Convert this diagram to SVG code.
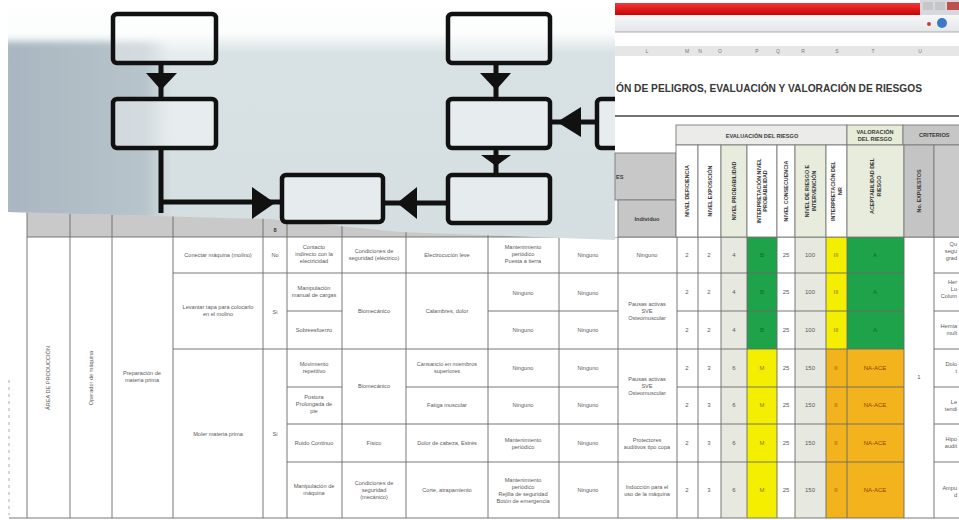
<svg xmlns="http://www.w3.org/2000/svg" width="959" height="520" viewBox="0 0 959 520">
<defs>
<linearGradient id="ov" x1="0" y1="0" x2="0" y2="240" gradientUnits="userSpaceOnUse">
<stop offset="0" stop-color="#ffffff"/>
<stop offset="0.14" stop-color="#fbfcfc"/>
<stop offset="0.22" stop-color="#d8e2e4"/>
<stop offset="1" stop-color="#d5dfe1"/>
</linearGradient>
<linearGradient id="dk" x1="0" y1="0" x2="1" y2="0">
<stop offset="0" stop-color="#a8b6bf"/>
<stop offset="0.85" stop-color="#b7c4cb"/>
<stop offset="1" stop-color="#b7c4cb" stop-opacity="0"/>
</linearGradient>
<linearGradient id="red" x1="0" y1="0" x2="0" y2="1">
<stop offset="0" stop-color="#f23a3a"/>
<stop offset="1" stop-color="#cc0000"/>
</linearGradient>
<linearGradient id="tb" x1="0" y1="0" x2="0" y2="1">
<stop offset="0" stop-color="#f6f7f8"/>
<stop offset="1" stop-color="#e4e6e9"/>
</linearGradient>
<filter id="bl" x="-20%" y="-20%" width="140%" height="140%"><feGaussianBlur stdDeviation="3"/></filter>
<clipPath id="ovc"><path d="M8,0 H615 V240 L400,232 L270,219 L8,212 Z"/></clipPath>
</defs>
<style>
.t{font-family:"Liberation Sans",Arial,sans-serif;font-size:5.6px;fill:#5a5a5a;text-anchor:middle}
.h{font-family:"Liberation Sans",Arial,sans-serif;font-size:5.6px;font-weight:bold;fill:#3a3a3a;text-anchor:middle}
.n{font-family:"Liberation Sans",Arial,sans-serif;font-size:6px;fill:#5a5a5a;text-anchor:middle}
.ln{stroke:#6a6a6a;stroke-width:0.9;fill:none}
.hd{stroke:#7a7a7a;stroke-width:0.9}
.box{fill:#ffffff;fill-opacity:0.4;stroke:#111;stroke-width:4.5}
.cn{stroke:#111;stroke-width:5;fill:none}
.ah{fill:#111}
</style>
<rect width="959" height="520" fill="#ffffff"/>

<g id="table">
<rect x="27" y="203" width="590" height="34" fill="#c9c9c9"/>
<text class="h" x="275" y="232" fill="#555">8</text>
<rect x="721" y="237" width="26" height="281" fill="#e7e9e0"/>
<rect x="795" y="237" width="31" height="281" fill="#e7e9e0"/>
<rect x="747" y="237" width="30" height="112" fill="#1ea34a"/>
<rect x="747" y="349" width="30" height="169" fill="#f4ee00"/>
<rect x="826" y="237" width="21" height="112" fill="#f4ee00"/>
<rect x="826" y="349" width="21" height="169" fill="#f2b31c"/>
<rect x="847" y="237" width="57" height="112" fill="#1ea34a"/>
<rect x="847" y="349" width="57" height="169" fill="#f2b31c"/>
<path class="ln" d="M27,203V518 M70,203V518 M112,203V518 M173,203V518 M263,203V518 M287,203V518 M342,203V518 M406,203V518 M488,203V518 M559,203V518 M618,237V518 M677,237V518 M698,237V518 M721,237V518 M747,237V518 M777,237V518 M795,237V518 M826,237V518 M847,237V518 M904,237V518 M934,237V518"/>
<path class="ln" d="M27,237H959 M9,518H959 M173,273H904 M934,273H959 M287,311H342 M488,311H618 M677,311H904 M934,311H959 M173,349H904 M934,349H959 M287,387H342 M406,387H618 M677,387H904 M934,387H959 M287,424H904 M934,424H959 M287,462H904 M934,462H959"/>
<path d="M9,380V515" stroke="#999" stroke-width="0.8" stroke-dasharray="3,4"/>
<text class="t" transform="translate(50,378) rotate(-90)">ÁREA DE PRODUCCIÓN</text>
<text class="t" transform="translate(93,378) rotate(-90)">Operador de máquina</text>
<text class="t" x="142" y="375"><tspan x="142">Preparación de</tspan><tspan x="142" dy="7">materia prima</tspan></text>
<text class="t" x="218" y="257">Conectar máquina (molino)</text>
<text class="t" x="218" y="309"><tspan x="218">Levantar tapa para colocarlo</tspan><tspan x="218" dy="7">en el molino</tspan></text>
<text class="t" x="218" y="436">Moler materia prima</text>
<text class="t" x="275" y="257">No</text>
<text class="t" x="275" y="314">Si</text>
<text class="t" x="275" y="436">Si</text>
<text class="t" y="249"><tspan x="314">Contacto</tspan><tspan x="314" dy="7">indirecto con la</tspan><tspan x="314" dy="7">electricidad</tspan></text>
<text class="t" y="290"><tspan x="314">Manipulación</tspan><tspan x="314" dy="7">manual de cargas</tspan></text>
<text class="t" x="314" y="332">Sobreesfuerzo</text>
<text class="t" y="366"><tspan x="314">Movimiento</tspan><tspan x="314" dy="7">repetitivo</tspan></text>
<text class="t" y="399"><tspan x="314">Postura</tspan><tspan x="314" dy="7">Prolongada de</tspan><tspan x="314" dy="7">pie</tspan></text>
<text class="t" x="314" y="445">Ruido Continuo</text>
<text class="t" y="488"><tspan x="314">Manipulación de</tspan><tspan x="314" dy="7">máquina</tspan></text>
<text class="t" y="253"><tspan x="374">Condiciones de</tspan><tspan x="374" dy="7">seguridad (eléctrico)</tspan></text>
<text class="t" x="374" y="313">Biomecánico</text>
<text class="t" x="374" y="388">Biomecánico</text>
<text class="t" x="374" y="445">Físico</text>
<text class="t" y="485"><tspan x="374">Condiciones de</tspan><tspan x="374" dy="7">seguridad</tspan><tspan x="374" dy="7">(mecánico)</tspan></text>
<text class="t" x="447" y="257">Electrocución leve</text>
<text class="t" x="447" y="313">Calambres, dolor</text>
<text class="t" y="366"><tspan x="447">Cansancio en miembros</tspan><tspan x="447" dy="7">superiores</tspan></text>
<text class="t" x="447" y="407">Fatiga muscular</text>
<text class="t" x="447" y="445">Dolor de cabeza, Estrés</text>
<text class="t" x="447" y="492">Corte, atrapamiento</text>
<text class="t" y="249"><tspan x="523">Mantenimiento</tspan><tspan x="523" dy="7">periódico</tspan><tspan x="523" dy="7">Puesta a tierra</tspan></text>
<text class="t" x="523" y="295">Ninguno</text>
<text class="t" x="523" y="332">Ninguno</text>
<text class="t" x="523" y="370">Ninguno</text>
<text class="t" x="523" y="407">Ninguno</text>
<text class="t" y="442"><tspan x="523">Mantenimiento</tspan><tspan x="523" dy="7">periódico</tspan></text>
<text class="t" y="482"><tspan x="523">Mantenimiento</tspan><tspan x="523" dy="7">periódico</tspan><tspan x="523" dy="7">Rejilla de seguridad</tspan><tspan x="523" dy="7">Botón de emergencia</tspan></text>
<text class="t" x="588" y="257">Ninguno</text>
<text class="t" x="588" y="295">Ninguno</text>
<text class="t" x="588" y="332">Ninguno</text>
<text class="t" x="588" y="370">Ninguno</text>
<text class="t" x="588" y="407">Ninguno</text>
<text class="t" x="588" y="445">Ninguno</text>
<text class="t" x="588" y="492">Ninguno</text>
<text class="t" x="647" y="257">Ninguno</text>
<text class="t" y="306"><tspan x="647">Pausas activas</tspan><tspan x="647" dy="7">SVE</tspan><tspan x="647" dy="7">Osteomuscular</tspan></text>
<text class="t" y="381"><tspan x="647">Pausas activas</tspan><tspan x="647" dy="7">SVE</tspan><tspan x="647" dy="7">Osteomuscular</tspan></text>
<text class="t" y="442"><tspan x="647">Protectores</tspan><tspan x="647" dy="7">auditivos tipo copa</tspan></text>
<text class="t" y="489"><tspan x="647">Inducción para el</tspan><tspan x="647" dy="7">uso de la máquina</tspan></text>
<g class="n">
<text x="687" y="257">2</text><text x="687" y="294">2</text><text x="687" y="332">2</text><text x="687" y="370">2</text><text x="687" y="407">2</text><text x="687" y="445">2</text><text x="687" y="492">2</text>
<text x="709" y="257">2</text><text x="709" y="294">2</text><text x="709" y="332">2</text><text x="709" y="370">3</text><text x="709" y="407">3</text><text x="709" y="445">3</text><text x="709" y="492">3</text>
<text x="734" y="257">4</text><text x="734" y="294">4</text><text x="734" y="332">4</text><text x="734" y="370">6</text><text x="734" y="407">6</text><text x="734" y="445">6</text><text x="734" y="492">6</text>
<text x="786" y="257">25</text><text x="786" y="294">25</text><text x="786" y="332">25</text><text x="786" y="370">25</text><text x="786" y="407">25</text><text x="786" y="445">25</text><text x="786" y="492">25</text>
<text x="810" y="257">100</text><text x="810" y="294">100</text><text x="810" y="332">100</text><text x="810" y="370">150</text><text x="810" y="407">150</text><text x="810" y="445">150</text><text x="810" y="492">150</text>
</g>
<g class="n">
<text x="762" y="257" style="fill:#0e6a2e">B</text><text x="762" y="294" style="fill:#0e6a2e">B</text><text x="762" y="332" style="fill:#0e6a2e">B</text>
<text x="875" y="257" style="fill:#0e6a2e">A</text><text x="875" y="294" style="fill:#0e6a2e">A</text><text x="875" y="332" style="fill:#0e6a2e">A</text>
<text x="762" y="370" style="fill:#8a7a00">M</text><text x="762" y="407" style="fill:#8a7a00">M</text><text x="762" y="445" style="fill:#8a7a00">M</text><text x="762" y="492" style="fill:#8a7a00">M</text>
<text x="836" y="257" style="fill:#8a7a00">III</text><text x="836" y="294" style="fill:#8a7a00">III</text><text x="836" y="332" style="fill:#8a7a00">III</text>
<text x="836" y="370" style="fill:#9a5a00">II</text><text x="836" y="407" style="fill:#9a5a00">II</text><text x="836" y="445" style="fill:#9a5a00">II</text><text x="836" y="492" style="fill:#9a5a00">II</text>
<text x="875" y="370" style="fill:#8a4a00">NA-ACE</text><text x="875" y="407" style="fill:#8a4a00">NA-ACE</text><text x="875" y="445" style="fill:#8a4a00">NA-ACE</text><text x="875" y="492" style="fill:#8a4a00">NA-ACE</text>
<text x="919" y="379">1</text>
</g>
<g class="t" style="text-anchor:end">
<text y="246"><tspan x="957">Qu</tspan><tspan x="957" dy="7">segu</tspan><tspan x="957" dy="7">grad</tspan></text>
<text y="284"><tspan x="957">Her</tspan><tspan x="957" dy="7">Lu</tspan><tspan x="957" dy="7">Colum</tspan></text>
<text y="328"><tspan x="957">Hernia</tspan><tspan x="957" dy="7">mult</tspan></text>
<text y="366"><tspan x="957">Dolo</tspan><tspan x="957" dy="7">t</tspan></text>
<text y="404"><tspan x="957">Le</tspan><tspan x="957" dy="7">tendi</tspan></text>
<text y="441"><tspan x="957">Hipo</tspan><tspan x="957" dy="7">audit</tspan></text>
<text y="490"><tspan x="957">Ampu</tspan><tspan x="957" dy="7">d</tspan></text>
</g>
</g>

<g id="backdrop">
<path d="M8,0 H615 V240 L400,232 L270,219 L8,212 Z" fill="url(#ov)"/>
<g clip-path="url(#ovc)">
<rect x="4" y="42" width="166" height="178" fill="url(#dk)" filter="url(#bl)"/>
</g>
</g>

<g id="connectors">
<path class="cn" d="M161,63V99"/>
<polygon class="ah" points="146,73 177,73 161,90"/>
<path class="cn" d="M161,148V213 M161,202H282"/>
<polygon class="ah" points="252,187 252,219 275,203"/>
<path class="cn" d="M496,63V99"/>
<polygon class="ah" points="480,73 511,73 496,90"/>
<path class="cn" d="M496,148V175"/>
<polygon class="ah" points="481,155 511,155 496,166"/>
<path class="cn" d="M448,203H383"/>
<polygon class="ah" points="417,187 417,219 397,203"/>
<path class="cn" d="M597,122H550"/>
<polygon class="ah" points="581,107 581,137 557,122"/>
</g>

<g id="node-a"><rect class="box" x="113" y="14" width="103" height="49" rx="4"/></g>
<g id="node-b"><rect class="box" x="113" y="99" width="103" height="49" rx="4"/></g>
<g id="node-c"><rect class="box" x="282" y="175" width="101" height="47" rx="4"/></g>
<g id="node-d"><rect class="box" x="448" y="14" width="102" height="49" rx="4"/></g>
<g id="node-e"><rect class="box" x="448" y="99" width="102" height="49" rx="4"/></g>
<g id="node-f"><rect class="box" x="448" y="175" width="102" height="48" rx="4"/></g>
<g id="node-g"><rect class="box" x="597" y="99" width="40" height="49" rx="4"/></g>

<g id="sheet-header">
<rect x="615" y="0" width="344" height="237" fill="#ffffff"/>
<rect x="615" y="3" width="305" height="12" fill="url(#red)"/>
<rect x="920" y="0" width="39" height="15" fill="#d6d8dc"/>
<rect x="923" y="2" width="10" height="8" fill="#c4c6ca"/>
<rect x="935" y="2" width="10" height="8" fill="#c4c6ca"/>
<rect x="947" y="2" width="12" height="8" fill="#c05050"/>
<rect x="615" y="15" width="344" height="17" fill="url(#tb)"/>
<line x1="615" y1="32" x2="959" y2="32" stroke="#9a9a9a" stroke-width="0.8"/>
<circle cx="929" cy="24" r="2" fill="#c04040"/>
<circle cx="942" cy="23" r="5" fill="#3a78c8"/>
<rect x="615" y="46" width="344" height="10" fill="#e6e6e6"/>
<g class="t" style="font-size:5px;fill:#777">
<text x="647" y="53">L</text><text x="687" y="53">M</text><text x="700" y="53">N</text><text x="720" y="53">O</text><text x="757" y="53">P</text><text x="778" y="53">Q</text><text x="803" y="53">R</text><text x="837" y="53">S</text><text x="873" y="53">T</text><text x="920" y="53">U</text>
</g>
<text x="616" y="92" font-family="'Liberation Sans',Arial,sans-serif" font-size="11" font-weight="bold" fill="#383838" textLength="306" lengthAdjust="spacingAndGlyphs">ÓN DE PELIGROS, EVALUACIÓN Y VALORACIÓN DE RIESGOS</text>
<line x1="615" y1="116" x2="959" y2="116" stroke="#444" stroke-width="1.4"/>
<rect x="676" y="125" width="171" height="20" fill="#ebebea" class="hd"/>
<rect x="847" y="125" width="56" height="20" fill="#e6ecd8" class="hd"/>
<rect x="903" y="125" width="58" height="20" fill="#c6c6c6" class="hd"/>
<text class="h" x="762" y="138">EVALUACIÓN DEL RIESGO</text>
<text class="h"><tspan x="875" y="134">VALORACIÓN</tspan><tspan x="875" dy="6.5">DEL RIESGO</tspan></text>
<text class="h" x="919" y="137" style="text-anchor:start">CRITERIOS</text>
<rect x="615" y="153" width="61" height="47" fill="#c8c8c8" class="hd"/>
<text class="h" x="616" y="179" style="text-anchor:start">ES</text>
<rect x="618" y="200" width="58" height="37" fill="#c6c6c6" class="hd"/>
<text class="h" x="647" y="221">Individuo</text>
<rect x="676" y="145" width="22" height="92" fill="#ffffff" class="hd"/>
<rect x="698" y="145" width="23" height="92" fill="#ffffff" class="hd"/>
<rect x="721" y="145" width="26" height="92" fill="#e7ecdc" class="hd"/>
<rect x="747" y="145" width="30" height="92" fill="#ffffff" class="hd"/>
<rect x="777" y="145" width="18" height="92" fill="#ffffff" class="hd"/>
<rect x="795" y="145" width="31" height="92" fill="#e7ecdc" class="hd"/>
<rect x="826" y="145" width="21" height="92" fill="#ffffff" class="hd"/>
<rect x="847" y="145" width="57" height="92" fill="#e7ecdc" class="hd"/>
<rect x="904" y="145" width="30" height="92" fill="#c4c4c4" class="hd"/>
<rect x="934" y="145" width="27" height="92" fill="#cacaca" class="hd"/>
<g class="h" style="font-size:5.4px">
<text transform="translate(687,191) rotate(-90)" y="2">NIVEL DEFICIENCIA</text>
<text transform="translate(709.5,191) rotate(-90)" y="2">NIVEL EXPOSICIÓN</text>
<text transform="translate(734,191) rotate(-90)" y="2">NIVEL PROBABILIDAD</text>
<text transform="translate(762,191) rotate(-90)"><tspan x="0" y="-1.5">INTERPRETACIÓN NIVEL</tspan><tspan x="0" dy="6.5">PROBABILIDAD</tspan></text>
<text transform="translate(786,191) rotate(-90)" y="2">NIVEL CONSECUENCIA</text>
<text transform="translate(810.5,191) rotate(-90)"><tspan x="0" y="-1.5">NIVEL DE RIESGO E</tspan><tspan x="0" dy="6.5">INTERVENCIÓN</tspan></text>
<text transform="translate(836.5,191) rotate(-90)"><tspan x="0" y="-1.5">INTERPRETACIÓN DEL</tspan><tspan x="0" dy="6.5">NR</tspan></text>
<text transform="translate(875.5,186) rotate(-90)"><tspan x="0" y="-1.5">ACEPTABILIDAD DEL</tspan><tspan x="0" dy="6.5">RIESGO</tspan></text>
<text transform="translate(919,191) rotate(-90)" y="2">No. EXPUESTOS</text>
</g>
</g>
</svg>
